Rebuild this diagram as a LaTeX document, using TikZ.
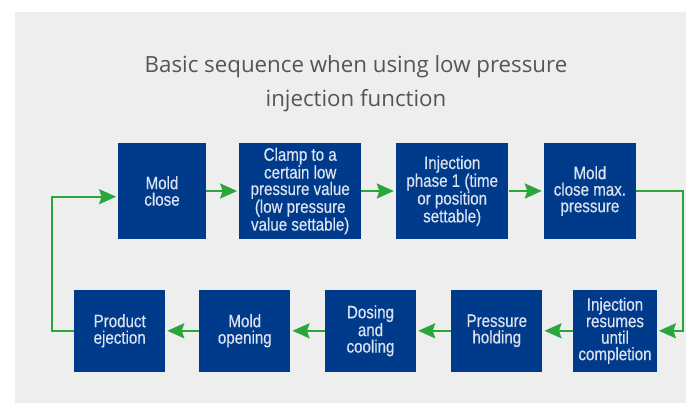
\documentclass[tikz,border=0pt]{standalone}
\usepackage{fontspec}
\setmainfont{Liberation Sans}
\newfontfamily\boxfont[FakeStretch=0.84,FakeBold=0.4]{Liberation Sans}
\newfontfamily\titlefont{Open Sans}
\usetikzlibrary{arrows.meta,calc}
\definecolor{bgray}{HTML}{EEEEEE}
\definecolor{bblue}{HTML}{003A8A}
\definecolor{bgreen}{HTML}{2BA63C}
\definecolor{btext}{HTML}{DCE3F0}
\definecolor{ttext}{HTML}{555555}
\tikzset{
  stepbox/.style={fill=bblue, draw=none, inner sep=0pt, align=center, text=btext,
    font=\boxfont\fontsize{18}{16.5}\selectfont},
  flow/.style={draw=bgreen, line width=2.2pt, -{Stealth[length=17pt,width=15pt,inset=2.5pt]}, shorten >=2pt},
  titletext/.style={text=ttext, font=\titlefont\fontsize{22.3}{34}\selectfont, align=center}
}
\begin{document}
\begin{tikzpicture}[x=1pt,y=-1pt]
\useasboundingbox (0,0) rectangle (686,403);
\fill[bgray] (15,12) rectangle (686,403);
\node[titletext] (title) at (356,84) {Basic sequence when using low pressure\\injection function};
% top row
\node[stepbox, minimum width=87.4pt, minimum height=96.6pt] (a) at (162,191) {Mold\\close};
\node[stepbox, minimum width=121.7pt, minimum height=96.6pt] (b) at (300.2,191) {Clamp to a\\certain low\\pressure value\\(low pressure\\value settable)};
\node[stepbox, minimum width=112.3pt, minimum height=96.6pt] (c) at (452.2,191) {Injection\\phase 1 (time\\or position\\settable)};
\node[stepbox, minimum width=91.7pt, minimum height=96.6pt] (d) at (589.9,191) {Mold\\close max.\\pressure};
% bottom row
\node[stepbox, minimum width=83.4pt, minimum height=81.7pt] (e) at (615,330.8) {Injection\\resumes\\until\\completion};
\node[stepbox, minimum width=91pt, minimum height=81.7pt] (f) at (496.8,330.8) {Pressure\\holding};
\node[stepbox, minimum width=91pt, minimum height=81.7pt] (g) at (370.5,330.8) {Dosing\\and\\cooling};
\node[stepbox, minimum width=91pt, minimum height=81.7pt] (h) at (244.8,330.8) {Mold\\opening};
\node[stepbox, minimum width=90.7pt, minimum height=81.7pt] (i) at (119.7,330.8) {Product\\ejection};
% connectors
\draw[flow] (a) -- (b);
\draw[flow] (b) -- (c);
\draw[flow] (c) -- (d);
\coordinate (r) at (683.3,191);
\draw[flow] (d.east) -- (r) |- (e.east);
\draw[flow] (e) -- (f);
\draw[flow] (f) -- (g);
\draw[flow] (g) -- (h);
\draw[flow] (h) -- (i);
\coordinate (l) at (52.3,196.7);
\draw[flow] (i.west) -| (l) -- (a.west |- l);
\end{tikzpicture}
\end{document}
